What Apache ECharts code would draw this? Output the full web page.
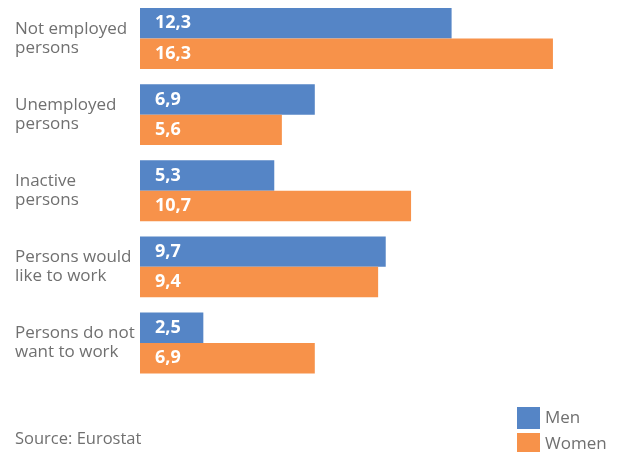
<!DOCTYPE html>
<html><head><meta charset="utf-8">
<script src="https://cdn.jsdelivr.net/npm/echarts@6/dist/echarts.min.js"></script>
<style>html,body{margin:0;padding:0;background:#fff}#c{width:620px;height:452px}</style>
</head><body><div id="c"></div>
<script>
var categories = ['Not employed\npersons', 'Unemployed\npersons', 'Inactive\npersons', 'Persons would\nlike to work', 'Persons do not\nwant to work'];
var menValues = [12.3, 6.9, 5.3, 9.7, 2.5];
var womenValues = [16.3, 5.6, 10.7, 9.4, 6.9];
var seriesNames = ['Men', 'Women'];
var sourceText = 'Source: Eurostat';

var FONT = '"Open Sans", "Noto Sans", sans-serif';
var TXT = '#707070';
var chart = echarts.init(document.getElementById('c'), null, {renderer: 'canvas'});
var lbl = {
  show: true, position: 'insideLeft', distance: 15, color: '#fff',
  fontFamily: FONT, fontWeight: 'bold', fontSize: 18,
  formatter: function (p) { return String(p.value).replace('.', ','); }
};
function leg(name, top) {
  return {
    orient: 'vertical', left: 517, top: top, padding: 0, itemWidth: 23, itemHeight: 22,
    icon: 'rect', textStyle: {color: TXT, fontSize: 17, fontFamily: FONT, padding: [3, 0, 0, 0]},
    data: [name]
  };
}
chart.setOption({
  backgroundColor: '#fff',
  animation: false,
  grid: {left: 140, top: 0.5, width: 456, height: 380.5, containLabel: false},
  xAxis: {type: 'value', min: 0, max: 18, show: false},
  yAxis: {
    type: 'category', data: categories, inverse: true,
    axisLine: {show: false}, axisTick: {show: false},
    axisLabel: {align: 'left', margin: 125, color: TXT, fontSize: 17, lineHeight: 19, fontFamily: FONT}
  },
  legend: [leg(seriesNames[0], 407), leg(seriesNames[1], 433)],
  graphic: [{type: 'text', left: 15, top: 431, style: {text: sourceText, fill: TXT, font: '16.5px ' + FONT}}],
  series: [
    {name: seriesNames[0], type: 'bar', data: menValues, barGap: '0%', barCategoryGap: '20%', itemStyle: {color: '#5585c6'}, label: lbl},
    {name: seriesNames[1], type: 'bar', data: womenValues, barGap: '0%', barCategoryGap: '20%', itemStyle: {color: '#f7924a'}, label: lbl}
  ]
});
</script></body></html>
